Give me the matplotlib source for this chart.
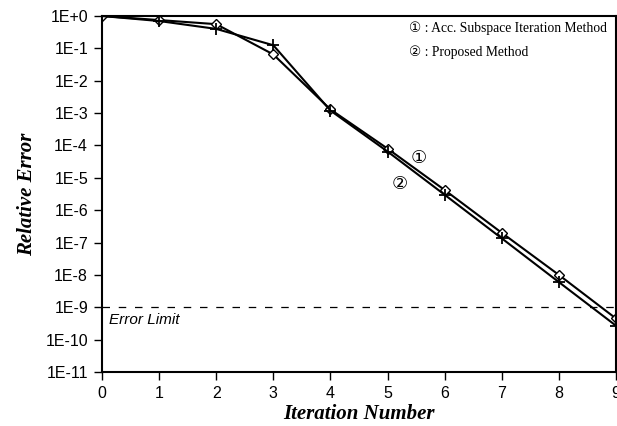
import matplotlib
matplotlib.use("Agg")
import matplotlib.pyplot as plt
from matplotlib.ticker import FixedLocator, NullLocator

iterations = [0, 1, 2, 3, 4, 5, 6, 7, 8, 9]
acc_subspace = [1.0, 0.75, 0.56, 0.065, 1.3e-3, 8.0e-5, 4.2e-6, 2.0e-7, 1.0e-8, 4.5e-10]
proposed = [1.0, 0.70, 0.40, 0.125, 1.2e-3, 6.5e-5, 3.0e-6, 1.35e-7, 6.0e-9, 2.7e-10]
error_limit = 1e-9
ytick_vals = [10.0 ** (-k) for k in range(0, 12)]
ytick_labels = ["1E+0"] + ["1E-%d" % k for k in range(1, 12)]
xtick_labels = [str(i) for i in iterations]

fig = plt.figure(figsize=(6.17, 4.26), dpi=100)
ax = fig.add_axes([0.1653, 0.1268, 0.8330, 0.8356])

ax.plot(iterations, acc_subspace, color="black", lw=1.5, marker="D", ms=5,
        mfc="white", mec="black", mew=1.0)
ax.plot(iterations, proposed, color="black", lw=1.5, marker="+", ms=8, mew=1.3)
ax.axhline(error_limit, color="black", lw=0.9, ls=(0, (6, 7)))

ax.set_yscale("log")
ax.set_ylim(1e-11, 1.0)
ax.set_xlim(0, 9)
ax.yaxis.set_major_locator(FixedLocator(ytick_vals))
ax.yaxis.set_minor_locator(NullLocator())
ax.set_yticklabels(ytick_labels)
ax.set_xticks(iterations)
ax.set_xticklabels(xtick_labels)

for lab in ax.get_xticklabels() + ax.get_yticklabels():
    lab.set_fontfamily("Liberation Sans")
    lab.set_fontsize(11.5)
ax.tick_params(axis="both", direction="out", length=6, width=1.0, pad=4)

for s in ax.spines.values():
    s.set_linewidth(1.5)

ax.set_xlabel("Iteration Number", family="Liberation Serif", style="italic",
              weight="bold", size=15, labelpad=2)
ax.set_ylabel("Relative Error", family="Liberation Serif", style="italic",
              weight="bold", size=15, labelpad=6)

ax.text(0.12, 3.9e-10, "Error Limit", family="Liberation Sans", style="italic",
        size=11, va="center", ha="left")

ax.text(5.55, 10 ** -4.4, "\u2460", family="DejaVu Sans", size=13, ha="center", va="center")
ax.text(5.22, 10 ** -5.2, "\u2461", family="DejaVu Sans", size=13, ha="center", va="center")

ax.text(0.598, 0.966, "\u2460 : Acc. Subspace Iteration Method", transform=ax.transAxes,
        family=["Liberation Serif", "DejaVu Sans"], size=9.8, ha="left", va="center")
ax.text(0.598, 0.899, "\u2461 : Proposed Method", transform=ax.transAxes,
        family=["Liberation Serif", "DejaVu Sans"], size=9.8, ha="left", va="center")

fig.savefig("out.png", dpi=100)
